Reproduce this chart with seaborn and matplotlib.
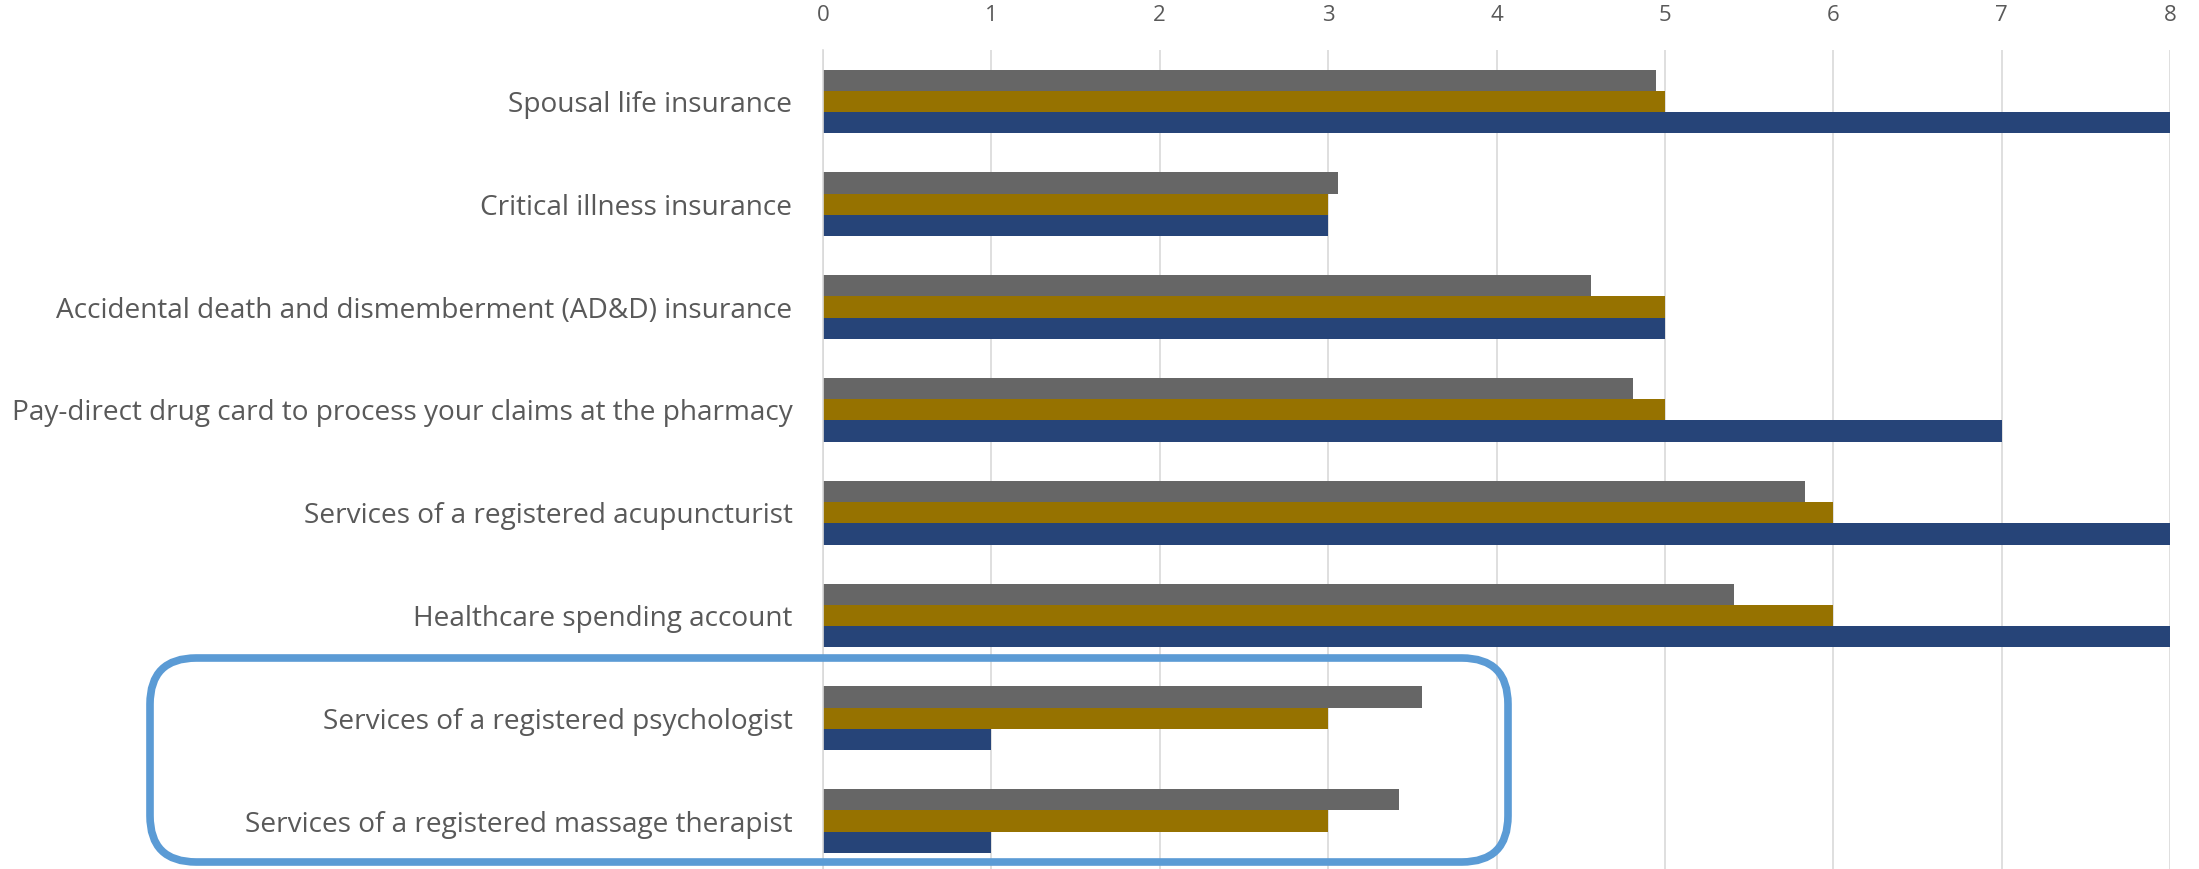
import matplotlib
matplotlib.use("Agg")
import matplotlib.pyplot as plt
from matplotlib.patches import FancyBboxPatch
import pandas as pd
import seaborn as sns

# Benefit categories, top to bottom
categories = [
    "Spousal life insurance",
    "Critical illness insurance",
    "Accidental death and dismemberment (AD&D) insurance",
    "Pay-direct drug card to process your claims at the pharmacy",
    "Services of a registered acupuncturist",
    "Healthcare spending account",
    "Services of a registered psychologist",
    "Services of a registered massage therapist",
]
series_names = ["Series 1", "Series 2", "Series 3"]
series_1 = [4.95, 3.06, 4.56, 4.81, 5.83, 5.41, 3.56, 3.42]
series_2 = [5, 3, 5, 5, 6, 6, 3, 3]
series_3 = [8, 3, 5, 7, 8, 8, 1, 1]
x_ticks = [0, 1, 2, 3, 4, 5, 6, 7, 8]

palette = ["#666666", "#967200", "#264478"]

df = pd.DataFrame({
    "category": categories * 3,
    "series": [series_names[0]] * 8 + [series_names[1]] * 8 + [series_names[2]] * 8,
    "value": series_1 + series_2 + series_3,
})

sns.set_theme(style="white")
plt.rcParams["font.family"] = ["Open Sans", "DejaVu Sans"]

W, H = 2199, 869
fig = plt.figure(figsize=(W / 100, H / 100), dpi=100)
ax = fig.add_axes([823 / W, 1 - 872.5 / H, (2170 - 823) / W, (872.5 - 50) / H])

sns.barplot(
    data=df, y="category", x="value", hue="series",
    order=categories, hue_order=series_names, palette=palette,
    orient="h", width=0.62, gap=0, saturation=1, legend=False,
    linewidth=0, ax=ax,
)

ax.set_xlim(0, 8)
ax.set_xticks(x_ticks)
ax.set_xticklabels([str(t) for t in x_ticks])
ax.xaxis.tick_top()
ax.set_xlabel("")
ax.set_ylabel("")
ax.grid(axis="x", color="#d9d9d9", linewidth=1.2)
ax.grid(axis="y", visible=False)
ax.set_axisbelow(True)
for side in ["top", "right", "bottom"]:
    ax.spines[side].set_visible(False)
ax.spines["left"].set_color("#d9d9d9")
ax.spines["left"].set_linewidth(1.2)
ax.tick_params(axis="x", length=0, pad=17, labelsize=16, labelcolor="#595959")
ax.tick_params(axis="y", length=0, pad=22, labelsize=20.2, labelcolor="#595959")

# Rounded frame around the last two categories
box = FancyBboxPatch(
    (150 / W, 1 - 862 / H), (1508 - 150) / W, (862 - 658) / H,
    boxstyle="round,pad=0,rounding_size=0.021",
    transform=fig.transFigure, fill=False,
    edgecolor="#5b9bd5", linewidth=5.5, mutation_aspect=W / H,
)
fig.patches.append(box)

fig.savefig("out.png", dpi=100)
